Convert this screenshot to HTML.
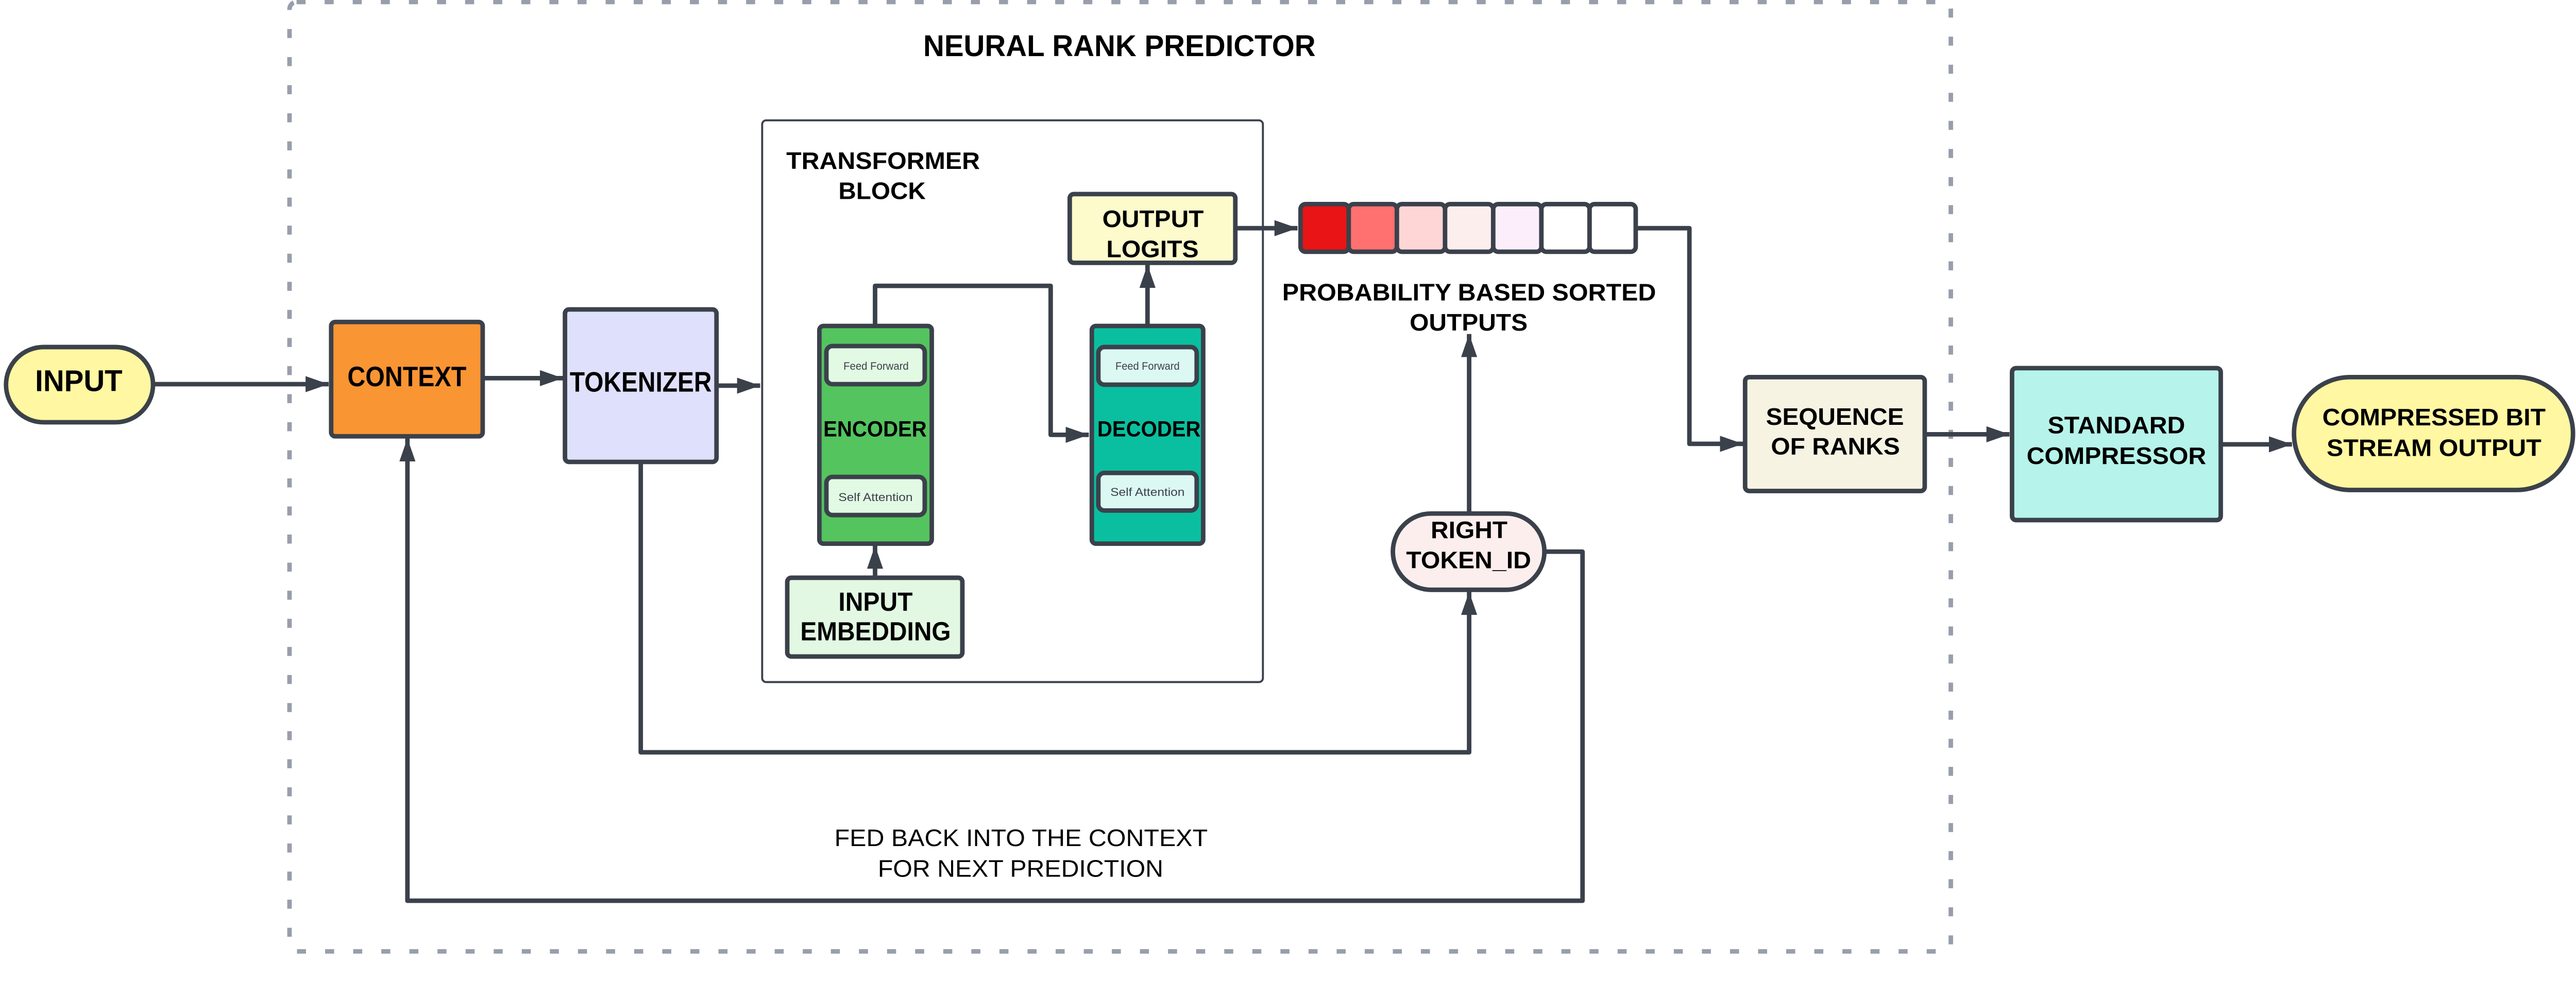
<!DOCTYPE html>
<html><head><meta charset="utf-8"><style>
html,body{margin:0;padding:0;background:#fff;width:100%;height:100%;overflow:hidden;}
svg{display:block;position:absolute;left:0;top:0;width:100vw;height:100vh;}
text{font-family:"Liberation Sans",Arial,sans-serif;fill:#000;}
.b{font-weight:bold;font-size:48px;}
</style></head><body>
<svg viewBox="0 0 5134 1905" preserveAspectRatio="xMinYMin meet" xmlns="http://www.w3.org/2000/svg">
<defs>
<marker id="a" markerUnits="userSpaceOnUse" markerWidth="48" markerHeight="32" refX="46" refY="16" orient="auto">
<path d="M0,0 L46,16 L0,32 Z" fill="#3b414b"/>
</marker>
</defs>
<rect x="577" y="4" width="3311" height="1893" rx="14" fill="none" stroke="#989eaa" stroke-width="9" stroke-dasharray="18 38"/>
<text class="b" x="2231" y="112" text-anchor="middle" style="font-size:60px" textLength="782" lengthAdjust="spacingAndGlyphs">NEURAL RANK PREDICTOR</text>

<g stroke="#3b414b" stroke-width="9" fill="none" stroke-linejoin="round">
<path d="M307 766 H655" marker-end="url(#a)"/>
<path d="M962 754 H1122" marker-end="url(#a)"/>
<path d="M1428 769 H1515" marker-end="url(#a)"/>
<path d="M1744 652 V570 H2094 V867 H2170" marker-end="url(#a)"/>
<path d="M2287 652 V528" marker-end="url(#a)"/>
<path d="M1744 1152 V1088" marker-end="url(#a)"/>
<path d="M2462 455 H2586" marker-end="url(#a)"/>
<path d="M3260 455 H3367 V885 H3474" marker-end="url(#a)"/>
<path d="M3836 866 H4005" marker-end="url(#a)"/>
<path d="M4428 886 H4568" marker-end="url(#a)"/>
<path d="M2928 1021 V666" marker-end="url(#a)"/>
<path d="M1277 921 V1500 H2928 V1180" marker-end="url(#a)"/>
<path d="M3080 1100 H3154 V1796 H812 V874" marker-end="url(#a)"/>
</g>

<rect x="1519" y="240" width="998" height="1120" rx="8" fill="none" stroke="#3b414b" stroke-width="4"/>
<text class="b" x="1760" y="337" text-anchor="middle" textLength="386" lengthAdjust="spacingAndGlyphs">TRANSFORMER</text>
<text class="b" x="1758" y="397" text-anchor="middle" textLength="174" lengthAdjust="spacingAndGlyphs">BLOCK</text>

<g stroke="#3b414b" stroke-width="9">
<rect x="12" y="692" width="293" height="150" rx="75" fill="#fff7a1"/>
<rect x="660" y="642" width="302" height="228" rx="8" fill="#f99533"/>
<rect x="1126" y="617" width="302" height="304" rx="8" fill="#dfe0fb"/>
<rect x="2132" y="387" width="330" height="137" rx="8" fill="#fdfbcb"/>
<rect x="1633" y="650" width="224" height="434" rx="8" fill="#54c45e"/>
<rect x="1647" y="690" width="196" height="76" rx="12" fill="#e2f9e3"/>
<rect x="1647" y="951" width="196" height="76" rx="12" fill="#e2f9e3"/>
<rect x="2176" y="650" width="222" height="434" rx="8" fill="#0abf9f"/>
<rect x="2189" y="692" width="196" height="75" rx="12" fill="#dcf8f2"/>
<rect x="2189" y="943" width="196" height="75" rx="12" fill="#dcf8f2"/>
<rect x="1569" y="1152" width="349" height="157" rx="8" fill="#e3f8e3"/>
<rect x="2592" y="407" width="96" height="95" rx="10" fill="#e81416"/>
<rect x="2688" y="407" width="96" height="95" rx="10" fill="#ff7070"/>
<rect x="2784" y="407" width="96" height="95" rx="10" fill="#ffd6d6"/>
<rect x="2880" y="407" width="96" height="95" rx="10" fill="#fdeeee"/>
<rect x="2976" y="407" width="96" height="95" rx="10" fill="#fdeefb"/>
<rect x="3072" y="407" width="96" height="95" rx="10" fill="#ffffff"/>
<rect x="3168" y="407" width="92" height="95" rx="10" fill="#ffffff"/>
<rect x="2776" y="1024" width="302" height="152" rx="76" fill="#fdeeee"/>
<rect x="3478" y="752" width="358" height="227" rx="8" fill="#f6f3e3"/>
<rect x="4010" y="734" width="416" height="303" rx="8" fill="#b6f3ea"/>
<rect x="4572" y="752" width="556" height="225" rx="112" fill="#fff7a1"/>
</g>

<text class="b" x="157" y="780" text-anchor="middle" style="font-size:60px" textLength="174" lengthAdjust="spacingAndGlyphs">INPUT</text>
<text class="b" x="811" y="770" text-anchor="middle" style="font-size:56px" textLength="237" lengthAdjust="spacingAndGlyphs">CONTEXT</text>
<text class="b" x="1277" y="781" text-anchor="middle" style="font-size:56px" textLength="283" lengthAdjust="spacingAndGlyphs">TOKENIZER</text>
<text class="b" x="2298" y="453" text-anchor="middle" textLength="202" lengthAdjust="spacingAndGlyphs">OUTPUT</text>
<text class="b" x="2297" y="513" text-anchor="middle" textLength="184" lengthAdjust="spacingAndGlyphs">LOGITS</text>
<text class="b" x="1744" y="870" text-anchor="middle" style="font-size:44px" textLength="206" lengthAdjust="spacingAndGlyphs">ENCODER</text>
<text class="b" x="2290" y="870" text-anchor="middle" style="font-size:44px" textLength="206" lengthAdjust="spacingAndGlyphs">DECODER</text>
<text x="1746" y="737" text-anchor="middle" style="fill:#3b414b;font-size:22px" textLength="130" lengthAdjust="spacingAndGlyphs">Feed Forward</text>
<text x="1745" y="999" text-anchor="middle" style="fill:#3b414b;font-size:23px" textLength="148" lengthAdjust="spacingAndGlyphs">Self Attention</text>
<text x="2287" y="737" text-anchor="middle" style="fill:#3b414b;font-size:22px" textLength="128" lengthAdjust="spacingAndGlyphs">Feed Forward</text>
<text x="2287" y="989" text-anchor="middle" style="fill:#3b414b;font-size:23px" textLength="148" lengthAdjust="spacingAndGlyphs">Self Attention</text>
<text class="b" x="1745" y="1218" text-anchor="middle" style="font-size:52px" textLength="148" lengthAdjust="spacingAndGlyphs">INPUT</text>
<text class="b" x="1745" y="1277" text-anchor="middle" style="font-size:52px" textLength="300" lengthAdjust="spacingAndGlyphs">EMBEDDING</text>
<text class="b" x="2928" y="599" text-anchor="middle" textLength="745" lengthAdjust="spacingAndGlyphs">PROBABILITY BASED SORTED</text>
<text class="b" x="2927" y="659" text-anchor="middle" textLength="235" lengthAdjust="spacingAndGlyphs">OUTPUTS</text>
<text class="b" x="2928" y="1073" text-anchor="middle" textLength="153" lengthAdjust="spacingAndGlyphs">RIGHT</text>
<text class="b" x="2927" y="1133" text-anchor="middle" textLength="249" lengthAdjust="spacingAndGlyphs">TOKEN_ID</text>
<text class="b" x="3657" y="847" text-anchor="middle" textLength="275" lengthAdjust="spacingAndGlyphs">SEQUENCE</text>
<text class="b" x="3658" y="906" text-anchor="middle" textLength="257" lengthAdjust="spacingAndGlyphs">OF RANKS</text>
<text class="b" x="4218" y="864" text-anchor="middle" textLength="274" lengthAdjust="spacingAndGlyphs">STANDARD</text>
<text class="b" x="4218" y="925" text-anchor="middle" textLength="358" lengthAdjust="spacingAndGlyphs">COMPRESSOR</text>
<text class="b" x="4851" y="848" text-anchor="middle" textLength="445" lengthAdjust="spacingAndGlyphs">COMPRESSED BIT</text>
<text class="b" x="4851" y="909" text-anchor="middle" textLength="428" lengthAdjust="spacingAndGlyphs">STREAM OUTPUT</text>
<text x="2035" y="1687" text-anchor="middle" style="font-size:48px" textLength="744" lengthAdjust="spacingAndGlyphs">FED BACK INTO THE CONTEXT</text>
<text x="2034" y="1748" text-anchor="middle" style="font-size:48px" textLength="569" lengthAdjust="spacingAndGlyphs">FOR NEXT PREDICTION</text>
</svg>
</body></html>
